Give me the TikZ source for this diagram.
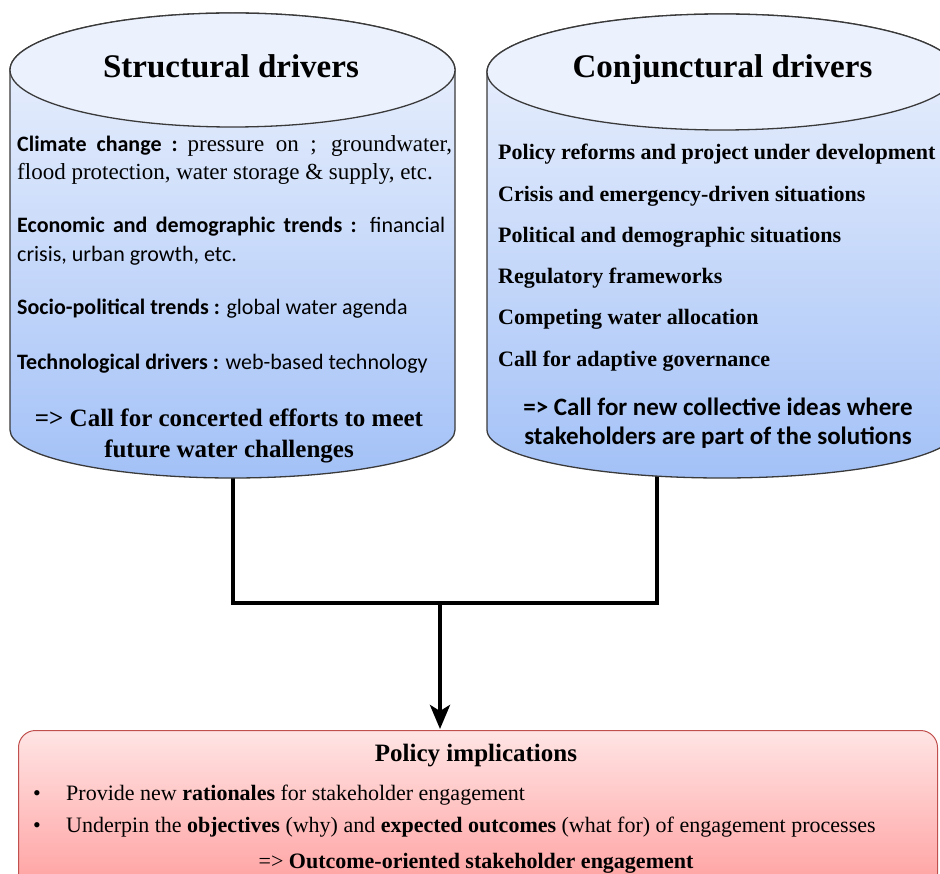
\documentclass[tikz,border=0pt]{standalone}
\usepackage{fontspec}
\setmainfont{Liberation Serif}
\newfontfamily\carl{Carlito}
\usetikzlibrary{arrows.meta}
\definecolor{cyltop}{HTML}{EEF3FD}
\definecolor{cylbot}{HTML}{A3C1F7}
\definecolor{capfill}{HTML}{EBF1FD}
\definecolor{cylline}{HTML}{3A3A3A}
\definecolor{pinktop}{HTML}{FFE4E4}
\definecolor{pinkbot}{HTML}{FFA0A0}
\definecolor{pinkline}{HTML}{C0504D}
\tikzset{
  cylbody/.style={draw=cylline, line width=1.3pt, top color=cyltop, bottom color=cylbot},
  cylcap/.style={draw=cylline, line width=1.3pt, fill=capfill},
  conn/.style={line width=4pt, line join=miter, draw=black},
  ttl/.style={font=\bfseries\fontsize{33}{38}\selectfont, anchor=base, inner sep=0pt},
  lst/.style={anchor=base west, inner sep=0pt},
  ctr/.style={anchor=base, inner sep=0pt},
}
\begin{document}
\begin{tikzpicture}[x=1pt,y=-1pt]
\useasboundingbox (0,0) rectangle (940,874);
\clip (0,0) rectangle (940,874);

% connectors (drawn first, cylinders cover the ends)
\coordinate (lbot) at (233,470);
\coordinate (rbot) at (657,470);
\coordinate (j) at (440,603);

% policy box
\node[draw=pinkline, line width=1pt, rounded corners=17pt, top color=pinktop, bottom color=pinkbot,
      minimum width=919pt, minimum height=160pt, anchor=north west, inner sep=0pt] (pol) at (18,730) {};

\draw[conn] (lbot) |- (j) -| (rbot);
\draw[conn, -{Stealth[length=24pt,width=20pt,inset=6pt]}] (j) -- ([yshift=1pt]pol.north -| j);

% left cylinder
\path[cylbody] (10,70) -- (10,430) arc[start angle=180,end angle=360,x radius=222.5pt,y radius=48pt]
  -- (455,70) arc[start angle=0,end angle=180,x radius=222.5pt,y radius=57pt] -- cycle;
\path[cylcap] (232.5,70) ellipse[x radius=222.5pt,y radius=57pt];

% right cylinder
\path[cylbody] (487,72) -- (487,430) arc[start angle=180,end angle=360,x radius=235pt,y radius=48pt]
  -- (957,72) arc[start angle=0,end angle=180,x radius=235pt,y radius=58pt] -- cycle;
\path[cylcap] (722,72) ellipse[x radius=235pt,y radius=58pt];

% left texts
\node[ttl] (ltitle) at (231,78) {Structural drivers};
\node[lst] (l1) at (17,152) {\makebox[435pt][s]{\carl\bfseries\fontsize{22}{26}\selectfont Climate change :\ \normalfont\fontsize{23}{27}\selectfont pressure on ; groundwater,}};
\node[lst] (l2) at (17,180) {\fontsize{23}{27}\selectfont flood protection, water storage \& supply, etc.};
\node[lst] (l3) at (17,233) {\makebox[428pt][s]{\carl\fontsize{22}{26}\selectfont\textbf{Economic and demographic trends :} financial}};
\node[lst] (l4) at (17,262) {\carl\fontsize{22}{26}\selectfont crisis, urban growth, etc.};
\node[lst] (l5) at (17,315) {\carl\fontsize{22}{26}\selectfont\textbf{Socio-political trends :} global water agenda};
\node[lst] (l6) at (17,370) {\carl\fontsize{22}{26}\selectfont\textbf{Technological drivers :} web-based technology};
\node[ctr, font=\bfseries\fontsize{25}{30}\selectfont] (l7) at (229,427) {=> Call for concerted efforts to meet};
\node[ctr, font=\bfseries\fontsize{25}{30}\selectfont] (l8) at (229,457) {future water challenges};

% right texts
\node[ttl] (rtitle) at (722.5,78) {Conjunctural drivers};
\begin{scope}[every node/.append style={lst, font=\bfseries\fontsize{22}{26}\selectfont}]
\node (r1) at (498,160) {Policy reforms and project under development};
\node (r2) at (498,202) {Crisis and emergency-driven situations};
\node (r3) at (498,243) {Political and demographic situations};
\node (r4) at (498,284) {Regulatory frameworks};
\node (r5) at (498,325) {Competing water allocation};
\node (r6) at (498,367) {Call for adaptive governance};
\end{scope}
\node[ctr, font=\carl\bfseries\fontsize{25}{30}\selectfont] (r7) at (718,416) {=> Call for new collective ideas where};
\node[ctr, font=\carl\bfseries\fontsize{25}{30}\selectfont] (r8) at (718,445) {stakeholders are part of the solutions};

% policy texts
\node[ctr, font=\bfseries\fontsize{25}{30}\selectfont] (ptitle) at (476,761) {Policy implications};
\node[lst, font=\fontsize{22}{26}\selectfont] (b1) at (33,800) {•};
\node[lst, font=\fontsize{22}{26}\selectfont] (p1) at (66,800) {Provide new \textbf{rationales} for stakeholder engagement};
\node[lst, font=\fontsize{22}{26}\selectfont] (b2) at (33,832) {•};
\node[lst, font=\fontsize{22}{26}\selectfont] (p2) at (66,832) {Underpin the \textbf{objectives} (why) and \textbf{expected outcomes} (what for) of engagement processes};
\node[ctr, font=\fontsize{22}{26}\selectfont] (p3) at (476,868) {=> \textbf{Outcome-oriented stakeholder engagement}};
\end{tikzpicture}
\end{document}
